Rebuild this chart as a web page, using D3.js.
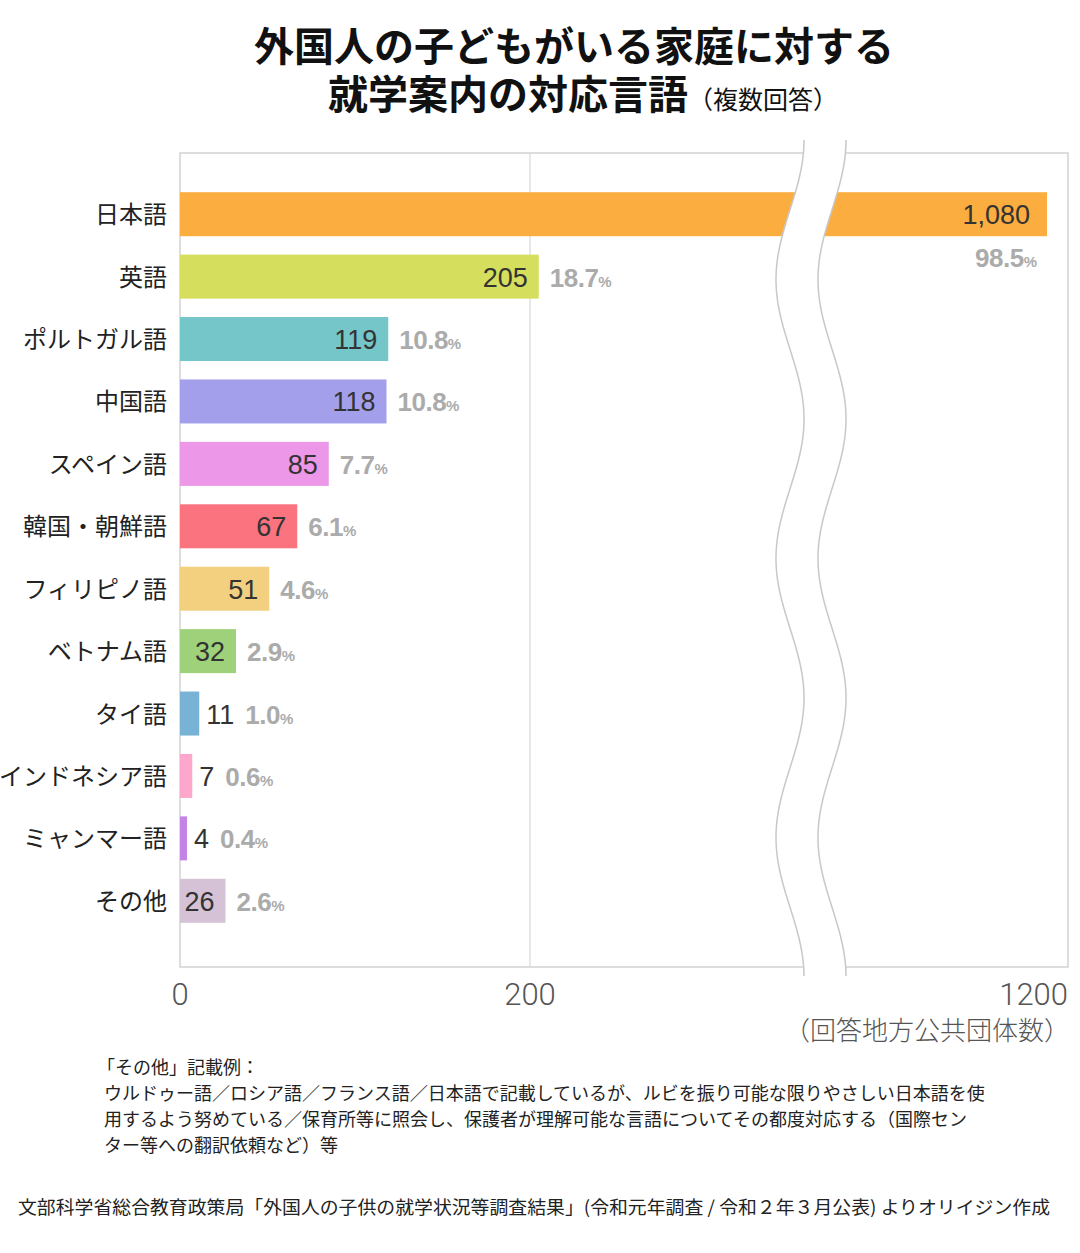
<!DOCTYPE html>
<html lang="ja">
<head>
<meta charset="utf-8">
<script src="https://cdn.jsdelivr.net/npm/d3@7"></script>
<style>
  html, body { margin: 0; padding: 0; background: #fff; }
  svg { display: block; }
</style>
</head>
<body>
<svg id="chart" width="1080" height="1253"></svg>
<script>
const categories = ["日本語","英語","ポルトガル語","中国語","スペイン語","韓国・朝鮮語","フィリピノ語","ベトナム語","タイ語","インドネシア語","ミャンマー語","その他"];
const counts = [1080, 205, 119, 118, 85, 67, 51, 32, 11, 7, 4, 26];
const percents = ["98.5","18.7","10.8","10.8","7.7","6.1","4.6","2.9","1.0","0.6","0.4","2.6"];
const colors = ["#FBAD3F","#D5DE5D","#74C6C9","#A39FEA","#EC97E8","#FA737E","#F3CF80","#9FD17A","#78B3D6","#FCA7CB","#C484E6","#D5C2D6"];
const tickValues = [0, 200, 1200];
const tickLabels = ["0", "200", "1200"];
const titleLine1 = "外国人の子どもがいる家庭に対する";
const titleLine2 = "就学案内の対応言語";
const titleSub = "（複数回答）";
const unitLabel = "（回答地方公共団体数）";
const noteLines = [
  "「その他」記載例：",
  "ウルドゥー語／ロシア語／フランス語／日本語で記載しているが、ルビを振り可能な限りやさしい日本語を使",
  "用するよう努めている／保育所等に照会し、保護者が理解可能な言語についてその都度対応する（国際セン",
  "ター等への翻訳依頼など）等"
];
const sourceText = "文部科学省総合教育政策局「外国人の子供の就学状況等調査結果」(令和元年調査 / 令和２年３月公表) よりオリイジン作成";

const JP = "'Noto Sans CJK JP', 'Noto Sans', sans-serif";
const NUM = "'Liberation Sans', Arial, Helvetica, sans-serif";
const THIN = "Roboto, 'Liberation Sans', sans-serif";

const svg = d3.select("#chart");
const L = 180, R = 1068, T = 153, B = 967;

// broken axis: piecewise linear scale
const x = d3.scaleLinear().domain([0, 400, 1080, 1200]).range([L, 880, 1047, R]);
const y = d3.scaleBand().domain(categories).range([183, 932]).paddingInner(0.295).paddingOuter(0.1475);

const data = categories.map((c, i) => ({ cat: c, v: counts[i], p: percents[i], col: colors[i] }));

// Title (one text element, two lines)
const title = svg.append("text")
  .style("font-family", JP).style("font-weight", 700).style("font-size", "40px").attr("fill", "#111");
title.append("tspan").attr("x", 574).attr("y", 61).attr("text-anchor", "middle").text(titleLine1);
title.append("tspan").attr("x", 328).attr("y", 109).attr("text-anchor", "start").text(titleLine2);
title.append("tspan").style("font-size", "25px").style("font-weight", 400).attr("dx", 0).text(titleSub);

// Plot frame & grid
svg.append("rect").attr("x", L).attr("y", T).attr("width", R - L).attr("height", B - T)
  .attr("fill", "none").attr("stroke", "#d2d2d2").attr("stroke-width", 1.5);
svg.append("line").attr("x1", x(200)).attr("x2", x(200)).attr("y1", T).attr("y2", B)
  .attr("stroke", "#d8d8d8").attr("stroke-width", 1.2);

// Bars
svg.append("g").selectAll("rect").data(data).join("rect")
  .attr("x", x(0)).attr("y", d => y(d.cat))
  .attr("width", d => x(d.v) - x(0)).attr("height", y.bandwidth())
  .attr("fill", d => d.col);

// Axis break (wavy white gap)
const waveL = d3.range(140, 977.5, 2).map(yy => [790 + 14 * Math.cos(2 * Math.PI * (yy - 140) / 279), yy]);
const waveR = waveL.map(([xx, yy]) => [xx + 42, yy]);
const line = d3.line();
svg.append("path").attr("d", line(waveL.concat(waveR.slice().reverse())) + "Z").attr("fill", "#fff");
[waveL, waveR].forEach(w => svg.append("path").attr("d", line(w))
  .attr("fill", "none").attr("stroke", "#c8c8c8").attr("stroke-width", 1.5));

// Category labels
svg.append("g").selectAll("text").data(data).join("text")
  .attr("x", 167).attr("y", d => y(d.cat) + y.bandwidth() / 2 + 9)
  .attr("text-anchor", "end")
  .style("font-family", JP).style("font-size", "24px").attr("fill", "#222")
  .text(d => d.cat);

// Value & percent labels
const lab = svg.append("g");
data.forEach(d => {
  const cy = y(d.cat) + y.bandwidth() / 2 + 10;
  const end = x(d.v);
  const big = d.v > 400;
  const inside = d.v >= 20;
  const vt = lab.append("text")
    .style("font-family", NUM).style("font-size", "27px").attr("fill", "#333")
    .text(d3.format(",")(d.v));
  let pctX, pctY = cy, anchor = "start";
  if (big) {
    vt.attr("x", end - 17).attr("y", cy).attr("text-anchor", "end");
    pctX = end - 10; pctY = cy + 43; anchor = "end";
  } else if (inside) {
    vt.attr("x", end - 11).attr("y", cy).attr("text-anchor", "end");
    pctX = end + 11;
  } else {
    vt.attr("x", end + 7).attr("y", cy).attr("text-anchor", "start");
    pctX = end + 7 + vt.node().getComputedTextLength() + 11;
  }
  const pt = lab.append("text").attr("x", pctX).attr("y", pctY).attr("text-anchor", anchor)
    .style("font-family", NUM).style("font-weight", 700).style("font-size", "26px").attr("fill", "#ababab")
    .style("letter-spacing", "-0.5px");
  pt.append("tspan").text(d.p);
  pt.append("tspan").style("font-size", "15px").style("letter-spacing", "0px").text("%");
});

// Axis tick labels
svg.append("g").selectAll("text").data(tickValues).join("text")
  .attr("x", d => x(d))
  .attr("y", 1005)
  .attr("text-anchor", (d, i) => i === tickValues.length - 1 ? "end" : "middle")
  .style("font-family", THIN).style("font-weight", 300).style("font-size", "31px").attr("fill", "#555")
  .text((d, i) => tickLabels[i]);
svg.append("text").attr("x", 1070).attr("y", 1040).attr("text-anchor", "end")
  .style("font-family", JP).style("font-weight", 300).style("font-size", "26px").attr("fill", "#555")
  .text(unitLabel);

// Notes
svg.append("g").selectAll("text").data(noteLines).join("text")
  .attr("x", (d, i) => i === 0 ? 97 : 104).attr("y", (d, i) => 1074 + i * 26)
  .style("font-family", JP).style("font-size", "18px").attr("fill", "#222")
  .text(d => d);

svg.append("text").attr("x", 18).attr("y", 1214)
  .style("font-family", JP).style("font-size", "18px").attr("fill", "#222")
  .attr("textLength", 1032).attr("lengthAdjust", "spacingAndGlyphs")
  .text(sourceText);
</script>
</body>
</html>
